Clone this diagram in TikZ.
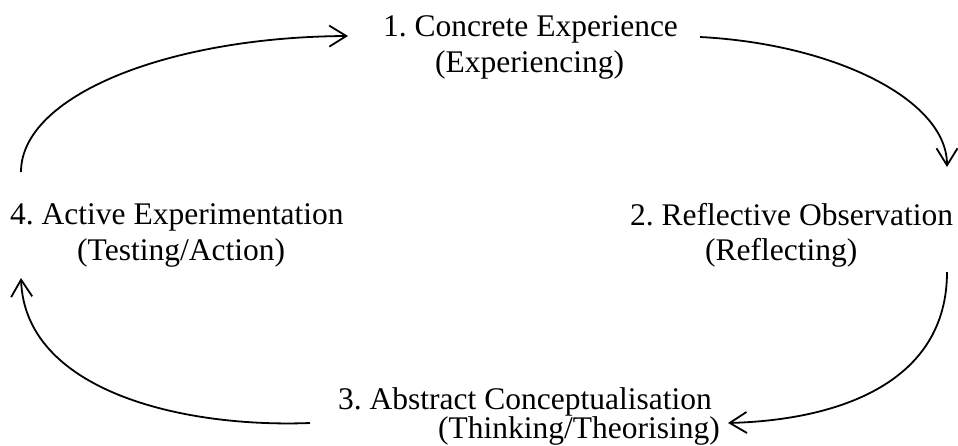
\documentclass[tikz,border=0pt]{standalone}
\usepackage{fontspec}
\setmainfont{Liberation Serif}
\usetikzlibrary{arrows.meta}
\frenchspacing
\begin{document}
\begin{tikzpicture}[x=1pt,y=-1pt,
  lbl/.style={anchor=base west, inner sep=0pt, font=\fontsize{31.5}{36}\selectfont},
  cyc/.style={line width=1.8pt, -{Straight Barb[length=17pt,width=21pt]}}]
\fill[white] (0,0) rectangle (958,445);
\useasboundingbox (0,0) rectangle (958,445);
% labels
\node[lbl] (ce)  at (383,36)  {1. Concrete Experience};
\node[lbl] (ce2) at (435,72)  {(Experiencing)};
\node[lbl] (ro)  at (630,225) {2. Reflective Observation};
\node[lbl] (ro2) at (705,260) {(Reflecting)};
\node[lbl] (ac)  at (338,409) {3. Abstract Conceptualisation};
\node[lbl] (ac2) at (438,438) {(Thinking/Theorising)};
\node[lbl] (ae)  at (10,224)  {4. Active Experimentation};
\node[lbl] (ae2) at (77,260)  {(Testing/Action)};
% connector ends
\coordinate (s41) at (21,172);
\coordinate (e41) at (348,36);
\coordinate (s12) at (700,37);
\coordinate (e12) at (947,167);
\coordinate (s23) at (947,272);
\coordinate (e23) at (728,423);
\coordinate (s34) at (310,423);
\coordinate (e34) at (21,278);
% cycle arrows
\draw[cyc] (s41) .. controls (21,96) and (167,37) .. (e41);
\draw[cyc] (s12) .. controls (835,44) and (947,100) .. (e12);
\draw[cyc] (s23) .. controls (947,382) and (840,420) .. (e23);
\draw[cyc] (s34) .. controls (180,428) and (25,390) .. (e34);
\end{tikzpicture}
\end{document}
